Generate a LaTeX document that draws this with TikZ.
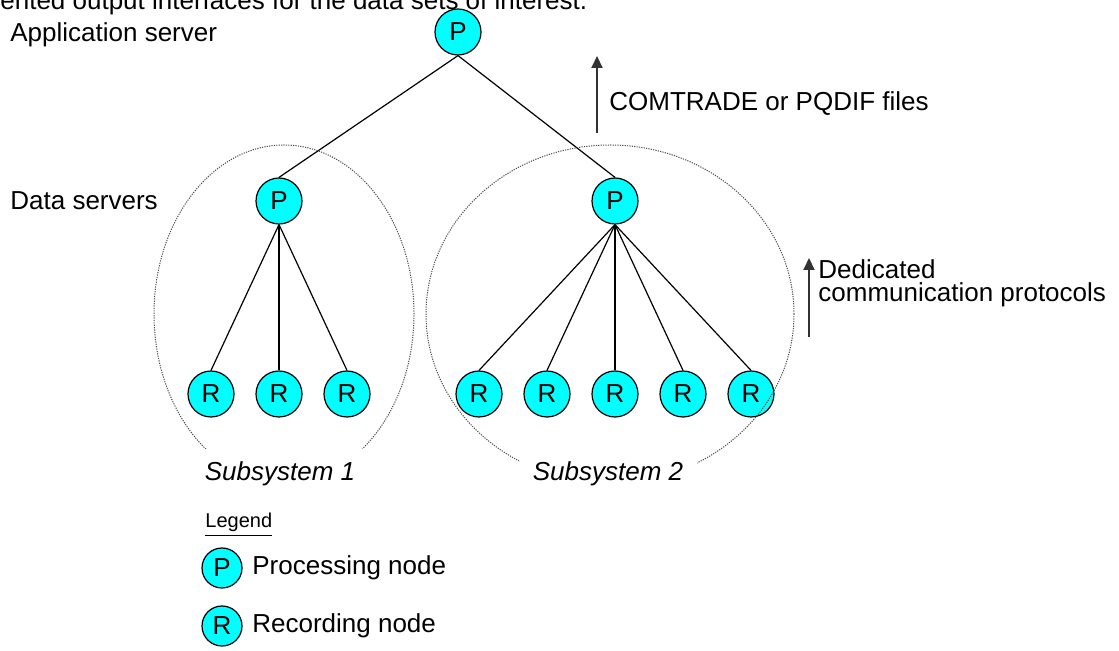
\documentclass[tikz,border=0pt]{standalone}
\usepackage{fontspec}
\setmainfont{Liberation Sans}
\usetikzlibrary{arrows.meta}
\definecolor{nodecyan}{RGB}{0,255,255}
\begin{document}
\begin{tikzpicture}[x=0.5pt,y=-0.5pt,
        font=\fontsize{13}{11.5}\selectfont,
        pnode/.style={circle,draw=black,fill=nodecyan,line width=0.6pt,
            minimum size=23pt,inner sep=0pt},
        lnode/.style={pnode,minimum size=20pt},
        link/.style={line width=0.6pt},
        subsys/.style={draw=black!70,line width=0.5pt,
            dash pattern=on 0.6pt off 0.6pt},
        sublabel/.style={fill=white,font=\fontsize{13}{15}\selectfont\itshape,
            inner xsep=4pt,minimum height=25pt},
        flow/.style={line width=1pt,draw=black!80,
            -{Triangle[width=5.5pt,length=6pt]}}]
    \clip (0,0) rectangle (1119,651);
    \useasboundingbox (0,0) rectangle (1119,651);
    \node[anchor=base west,inner sep=0pt] (cut) at (0,10)
        {ented output interfaces for the data sets of interest.};
    % levels
    \node[anchor=base west,inner sep=0pt] (appl) at (10,42) {Application server};
    \node[anchor=base west,inner sep=0pt] (datal) at (10,210) {Data servers};
    \node[pnode] (app) at (458,32) {P};
    \node[pnode] (ds1) at (279,201) {P};
    \node[pnode] (ds2) at (615,201) {P};
    \node[pnode] (r11) at (211,394) {R};
    \node[pnode] (r12) at (279,394) {R};
    \node[pnode] (r13) at (347,394) {R};
    \node[pnode] (r21) at (479,394) {R};
    \node[pnode] (r22) at (547,394) {R};
    \node[pnode] (r23) at (615,394) {R};
    \node[pnode] (r24) at (683,394) {R};
    \node[pnode] (r25) at (751,394) {R};
    \draw[link] (app.south) -- (ds1.north);
    \draw[link] (app.south) -- (ds2.north);
    \draw[link] (ds1.south) -- (r11.north);
    \draw[link] (ds1.south) -- (r12.north);
    \draw[link] (ds1.south) -- (r13.north);
    \draw[link] (ds2.south) -- (r21.north);
    \draw[link] (ds2.south) -- (r22.north);
    \draw[link] (ds2.south) -- (r23.north);
    \draw[link] (ds2.south) -- (r24.north);
    \draw[link] (ds2.south) -- (r25.north);
    % subsystems
    \draw[subsys] (284,314) ellipse [x radius=65pt, y radius=84.5pt];
    \draw[subsys] (610,314) ellipse [x radius=92pt, y radius=84.5pt];
    \node[sublabel] (sub1) at (280,474) {Subsystem 1};
    \node[sublabel,inner xsep=7pt] (sub2) at (608,474) {Subsystem 2};
    % protocols
    \coordinate (cfa) at (597,133);
    \coordinate (cfb) at (597,56);
    \draw[flow] (cfa) -- (cfb);
    \node[anchor=base west,inner sep=0pt] (cfl) at (609,111) {COMTRADE or PQDIF files};
    \coordinate (dpa) at (809,337);
    \coordinate (dpb) at (809,258);
    \draw[flow] (dpa) -- (dpb);
    \node[anchor=base west,inner sep=0pt,align=left] (dpl) at (818,302)
        {Dedicated\\communication protocols};
    % legend
    \node[anchor=base west,inner sep=0pt,font=\fontsize{10}{12}\selectfont]
        (leg) at (205,528) {\underline{Legend}};
    \node[lnode] (lp) at (222,568) {P};
    \node[anchor=west,inner sep=0pt] (lpl) at (252,568) {Processing node};
    \node[lnode] (lr) at (222,626) {R};
    \node[anchor=west,inner sep=0pt] (lrl) at (252,626) {Recording node};
\end{tikzpicture}
\end{document}
